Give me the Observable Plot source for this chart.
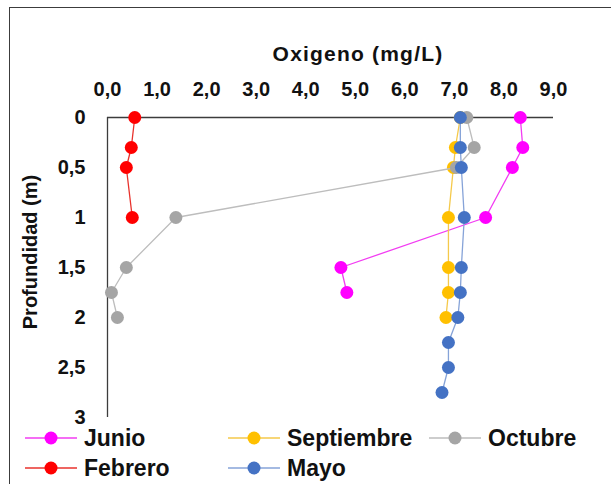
<!DOCTYPE html>
<html>
<head>
<meta charset="utf-8">
<script src="https://cdn.jsdelivr.net/npm/d3@7"></script>
<script src="https://cdn.jsdelivr.net/npm/@observablehq/plot@0.6"></script>
<style>
  body { margin: 0; background: #fff; font-family: "Liberation Sans", Arial, sans-serif; }
  #chart { position: relative; width: 611px; height: 484px; overflow: hidden; background: #fff; }
  #frame { position: absolute; left: 9px; top: 7px; width: 800px; height: 800px;
           border-left: 1.5px solid #3c3c3c; border-top: 1.5px solid #3c3c3c; pointer-events: none; }
  #xtitle { position: absolute; left: 358px; top: 54px; transform: translate(-50%, -50%);
            font-size: 21px; font-weight: bold; color: #111; white-space: nowrap; letter-spacing: 1.2px; }
  #ytitle { position: absolute; left: 30px; top: 252px; transform: translate(-50%, -50%) rotate(-90deg);
            font-size: 20px; font-weight: bold; color: #111; white-space: nowrap; }
  .leg { position: absolute; display: flex; align-items: center; height: 30px;
         font-size: 23px; font-weight: bold; color: #111; white-space: nowrap; }
  .leg svg { display: block; margin-right: 7px; }
</style>
</head>
<body>
<div id="chart"><div id="frame"></div><div id="xtitle">Oxigeno (mg/L)</div><div id="ytitle">Profundidad (m)</div></div>
<script>
// Dissolved oxygen profiles (mg/L) by depth (m), one series per sampling month
const seriesNames = ["Junio", "Septiembre", "Octubre", "Febrero", "Mayo"];

const depthJunio = [0, 0.3, 0.5, 1, 1.5, 1.75];
const oxJunio    = [8.33, 8.38, 8.17, 7.63, 4.71, 4.83];

const depthSeptiembre = [0, 0.3, 0.5, 1, 1.5, 1.75, 2];
const oxSeptiembre    = [7.12, 7.02, 6.98, 6.88, 6.88, 6.88, 6.83];

const depthOctubre = [0, 0.3, 0.5, 1, 1.5, 1.75, 2];
const oxOctubre    = [7.25, 7.4, 7.04, 1.38, 0.38, 0.08, 0.2];

const depthFebrero = [0, 0.3, 0.5, 1];
const oxFebrero    = [0.55, 0.48, 0.38, 0.5];

const depthMayo = [0, 0.3, 0.5, 1, 1.5, 1.75, 2, 2.25, 2.5, 2.75];
const oxMayo    = [7.12, 7.12, 7.14, 7.2, 7.14, 7.12, 7.07, 6.88, 6.88, 6.75];

const xTicks = [0, 1, 2, 3, 4, 5, 6, 7, 8, 9];
const yTicks = [0, 0.5, 1, 1.5, 2, 2.5, 3];

const markerColors = ["#FF00FF", "#FFC000", "#A5A5A5", "#FF0000", "#4472C4"];
const lineColors   = ["#F23CF2", "#F5C94A", "#BDBDBD", "#E8322C", "#86A3D8"];

const depths = [depthJunio, depthSeptiembre, depthOctubre, depthFebrero, depthMayo];
const values = [oxJunio, oxSeptiembre, oxOctubre, oxFebrero, oxMayo];

const rows = seriesNames.map((name, i) =>
  depths[i].map((d, j) => ({series: name, depth: d, ox: values[i][j]}))
);

const comma = s => String(s).replace(".", ",");
const font = "'Liberation Sans', Arial, sans-serif";

const marks = [
  Plot.ruleY([0], {stroke: "#3c3c3c", strokeWidth: 1.3}),
  Plot.ruleX([0], {stroke: "#3c3c3c", strokeWidth: 1.3}),
  Plot.axisX({anchor: "top", ticks: xTicks, tickFormat: d => d.toFixed(1).replace(".", ","),
              tickSize: 0, tickPadding: 22, fontSize: 20, fontWeight: "bold", fill: "#111", label: null}),
  Plot.axisY({anchor: "left", ticks: yTicks, tickFormat: comma,
              tickSize: 0, tickPadding: 22, fontSize: 20, fontWeight: "bold", fill: "#111", label: null})
];

rows.forEach((data, i) => {
  marks.push(Plot.line(data, {x: "ox", y: "depth", stroke: lineColors[i], strokeWidth: 1.3}));
  marks.push(Plot.dot(data, {x: "ox", y: "depth", r: 6.5, fill: markerColors[i], stroke: "none"}));
});

const plot = Plot.plot({
  width: 611,
  height: 427,
  marginLeft: 107,
  marginRight: 58,
  marginTop: 117,
  marginBottom: 10,
  style: {fontFamily: font, background: "transparent", overflow: "visible"},
  x: {domain: [0, 9]},
  y: {domain: [0, 3], reverse: true},
  marks
});

const chart = document.getElementById("chart");
chart.insertBefore(plot, chart.firstChild);

// Legend: two rows under the plot, line-with-marker swatches
const legendLayout = [
  {left: 25, top: 423}, {left: 228, top: 423}, {left: 429, top: 423},
  {left: 25, top: 453}, {left: 228, top: 453}
];
seriesNames.forEach((name, i) => {
  const item = document.createElement("div");
  item.className = "leg";
  item.style.left = legendLayout[i].left + "px";
  item.style.top = legendLayout[i].top + "px";
  const ns = "http://www.w3.org/2000/svg";
  const svg = document.createElementNS(ns, "svg");
  svg.setAttribute("width", 52);
  svg.setAttribute("height", 20);
  const ln = document.createElementNS(ns, "line");
  ln.setAttribute("x1", 0); ln.setAttribute("x2", 52);
  ln.setAttribute("y1", 10); ln.setAttribute("y2", 10);
  ln.setAttribute("stroke", lineColors[i]);
  ln.setAttribute("stroke-width", 1.5);
  const c = document.createElementNS(ns, "circle");
  c.setAttribute("cx", 26); c.setAttribute("cy", 10); c.setAttribute("r", 6.5);
  c.setAttribute("fill", markerColors[i]);
  svg.appendChild(ln); svg.appendChild(c);
  item.appendChild(svg);
  const label = document.createElement("span");
  label.textContent = name;
  item.appendChild(label);
  chart.appendChild(item);
});
</script>
</body>
</html>
